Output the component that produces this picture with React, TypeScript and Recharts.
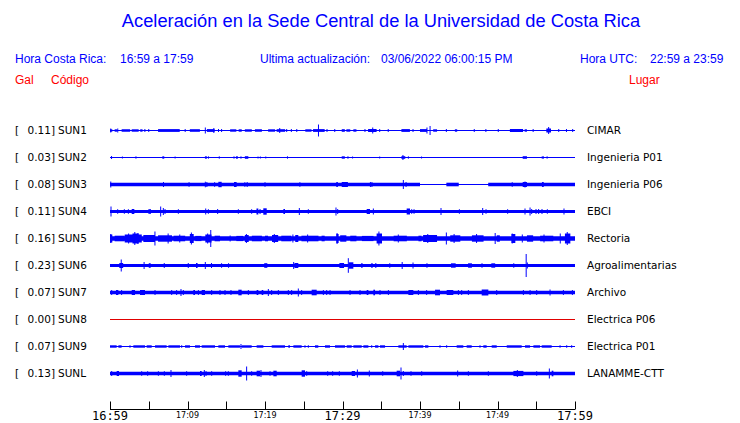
import React from 'react';
import { ComposedChart, Line, XAxis, YAxis, ReferenceArea, ReferenceLine } from 'recharts';

// stations, top to bottom
const STATIONS = ['SUN1', 'SUN2', 'SUN3', 'SUN4', 'SUN5', 'SUN6', 'SUN7', 'SUN8', 'SUN9', 'SUNL'];
const PEAKS = ['0.11', '0.03', '0.08', '0.11', '0.16', '0.23', '0.07', '0.00', '0.07', '0.13'];
const PLACES = ['CIMAR', 'Ingenieria P01', 'Ingenieria P06', 'EBCI', 'Rectoria', 'Agroalimentarias', 'Archivo', 'Electrica P06', 'Electrica P01', 'LANAMME-CTT'];
const TRACE_COLORS = ['#0000ff', '#0000ff', '#0000ff', '#0000ff', '#0000ff', '#0000ff', '#0000ff', '#e00000', '#0000ff', '#0000ff'];

// minutes after 16:59
const TIME_TICKS = [0, 5, 10, 15, 20, 25, 30, 35, 40, 45, 50, 55, 60];
const TIME_LABELS = ['16:59', '', '17:09', '', '17:19', '', '17:29', '', '17:39', '', '17:49', '', '17:59'];
const MAJOR_LABELS = ['16:59', '17:29', '17:59'];

// continuous band of the trace: [from, to, half width]
const SUN1_BASE: number[][] = [];
const SUN2_BASE: number[][] = [];
const SUN3_BASE = [[0, 40, 1.8], [43.4, 45.0, 1.8], [48.8, 60, 1.8]];
const SUN4_BASE = [[0, 60, 1.6]];
const SUN5_BASE = [[0, 60, 2.3]];
const SUN6_BASE = [[0, 60, 1.6]];
const SUN7_BASE = [[0, 60, 1.7]];
const SUN8_BASE: number[][] = [];
const SUN9_BASE: number[][] = [];
const SUNL_BASE = [[0, 60, 1.7]];

// bursts: [from, to, half amplitude]
const SUN1_BURSTS = [[0.0, 0.3, 1.2], [0.6, 0.9, 1.2], [1.5, 2.6, 1.3], [2.8, 3.7, 1.2], [3.9, 4.2, 1.2], [6.2, 9.0, 1.4], [10.3, 11.6, 1.3], [12.5, 13.5, 1.4], [15.5, 16.3, 1.2], [16.6, 17.0, 1.2], [17.4, 18.3, 1.2], [18.7, 19.6, 1.2], [20.4, 21.3, 1.2], [21.5, 22.6, 1.3], [25.2, 26.0, 1.2], [26.2, 27.7, 1.4], [29.9, 30.3, 1.3], [30.5, 31.0, 1.2], [31.4, 31.8, 1.2], [33.3, 34.4, 1.5], [37.6, 38.7, 1.4], [40.0, 40.9, 1.4], [41.7, 42.2, 1.2], [44.5, 44.8, 1.2], [51.6, 53.3, 1.4], [53.5, 53.8, 1.2], [56.3, 56.9, 2.0]];
const SUN2_BURSTS = [[6.75, 7.0, 1.2], [12.25, 12.5, 1.2], [16.25, 16.5, 1.2], [17.4, 17.85, 1.3], [29.9, 30.3, 1.2], [30.6, 30.8, 1.1], [37.6, 38.1, 1.3], [53.25, 53.8, 1.3], [55.7, 56.0, 1.1]];
const SUN3_BURSTS = [[13.98, 14.41, 2.7], [16.0, 16.34, 2.5], [29.2, 29.4, 2.5], [29.9, 30.7, 2.5], [53.25, 53.8, 2.5]];
const SUN4_BURSTS = [[2.8, 3.14, 2.5], [4.95, 5.29, 2.3], [18.9, 19.14, 3], [19.78, 20.22, 3.2], [22.37, 22.58, 2.5], [33.12, 33.55, 2.5], [38.28, 38.71, 3]];
const SUN5_BURSTS = [[0, 0.3, 4], [0.6, 1.9, 2.8], [1.9, 4.1, 4], [2.9, 3.7, 5], [4.3, 5.8, 3.5], [6.2, 8.0, 3.2], [8.2, 9.7, 2.8], [10.3, 10.8, 4.5], [11.0, 11.8, 2.6], [12.3, 13.1, 4], [13.5, 14.2, 2.8], [16.3, 17.2, 2.6], [17.4, 17.9, 3.5], [18.3, 19.6, 2.8], [20.0, 20.4, 2.8], [20.9, 21.7, 3.5], [22.1, 23.4, 2.8], [23.9, 24.3, 3.5], [24.7, 26.9, 2.8], [27.3, 27.7, 2.8], [29.2, 29.5, 4.5], [29.7, 30.5, 3.2], [31.0, 31.8, 2.8], [32.5, 34.0, 2.6], [34.4, 35.1, 5], [36.6, 38.3, 2.8], [39.8, 40.2, 2.8], [40.4, 42.2, 3.5], [43.9, 45.2, 3.2], [46.7, 48.2, 3.2], [49.9, 50.3, 3.2], [51.8, 52.3, 4.5], [53.8, 54.6, 3.2], [55.5, 57.2, 2.8], [58.7, 59.4, 5]];
const SUN6_BURSTS = [[1.2, 1.7, 2.5], [5.0, 5.25, 2.3], [11.1, 11.3, 2.5], [19.9, 20.3, 2.3], [23.8, 24.3, 2.5], [29.6, 30.2, 2.5], [30.8, 31.4, 3.2], [32.4, 32.6, 2.3], [33.7, 33.9, 2.3], [44.0, 44.6, 2.2], [46.2, 46.7, 2.2], [49.2, 49.7, 2.2]];
const SUN7_BURSTS = [[0.77, 1.08, 2.5], [2.8, 3.23, 2.5], [3.87, 4.52, 2.5], [10.75, 10.97, 2.5], [11.83, 12.26, 2.5], [16.56, 16.99, 2.8], [18.92, 19.14, 2.5], [19.57, 19.78, 2.5], [26.02, 26.67, 2.8], [33.12, 33.34, 2.5], [33.98, 34.2, 2.8], [38.5, 39.14, 2.5], [41.94, 42.58, 2.8], [43.44, 44.3, 2.5], [47.96, 48.82, 3]];
const SUN8_BURSTS: number[][] = [];
const SUN9_BURSTS = [[0, 0.86, 1.2], [1.08, 1.5, 1.2], [3.01, 4.52, 1.2], [4.73, 5.38, 1.2], [5.81, 7.31, 1.2], [7.53, 9.03, 1.2], [9.68, 10.32, 1.2], [10.97, 11.61, 1.2], [11.83, 13.55, 1.2], [13.98, 14.84, 1.2], [15.27, 16.77, 1.2], [16.99, 18.28, 1.2], [18.92, 19.79, 1.2], [20.86, 22.58, 1.2], [23.01, 23.22, 1.2], [23.66, 24.73, 1.2], [26.45, 26.88, 1.2], [27.74, 28.39, 1.2], [29.03, 30.33, 1.2], [30.54, 31.19, 1.2], [31.4, 32.48, 1.2], [32.69, 33.34, 1.2], [34.2, 34.63, 1.2], [34.84, 35.49, 1.2], [37.21, 38.28, 1.2], [38.5, 40.43, 1.2], [40.65, 41.08, 1.2], [44.73, 45.59, 1.2], [46.02, 46.67, 1.2], [48.17, 48.6, 1.2], [49.25, 49.9, 1.2], [51.19, 53.12, 1.2], [53.55, 54.2, 1.2], [54.63, 55.49, 1.2], [55.7, 56.99, 1.2]];
const SUNL_BURSTS = [[0.86, 1.16, 2.5], [11.61, 11.83, 2.5], [16.56, 16.99, 3.2], [18.92, 19.36, 2.8], [21.08, 21.51, 2.8], [24.73, 25.16, 3.2], [31.19, 31.62, 2.5], [36.99, 37.42, 2.8], [52.05, 53.34, 2.6], [56.99, 57.21, 2.8]];

// single spikes: [minute, half amplitude]
const SUN1_SPIKES = [[0.1, 2], [1.0, 2], [4.5, 1.5], [5.0, 1.5], [9.7, 1.5], [12.3, 3], [13.4, 2.5], [14.0, 1.5], [14.4, 1.5], [21.9, 2.5], [22.8, 1.5], [23.4, 1.5], [24.1, 1.5], [26.9, 6], [28.0, 1.5], [29.0, 1.5], [32.9, 1.5], [33.9, 3], [34.8, 1.5], [35.9, 1.5], [39.1, 1.5], [40.9, 3], [41.3, 4.5], [43.4, 1.5], [47.0, 1.5], [48.5, 1.5], [50.1, 1.5], [54.6, 1.5], [56.6, 3.5], [57.9, 1.5], [58.9, 1.5], [59.7, 1.5]];
const SUN2_SPIKES = [[0.2, 1.5], [1.6, 1], [3.35, 1.2], [8.4, 1], [12.7, 1.2], [14.1, 1.2], [16.0, 1.2], [16.9, 1.2], [19.1, 1], [19.4, 1], [20.1, 1], [22.9, 1.2], [31.3, 1], [34.8, 1], [37.8, 2.5], [38.5, 1.2], [40.2, 1], [56.4, 1.2]];
const SUN3_SPIKES = [[0.1, 3], [6.9, 2.5], [10.2, 2.3], [12.3, 2.8], [12.5, 2.5], [13.5, 2.3], [17.4, 2.3], [17.7, 2.5], [20.0, 2.3], [24.5, 2.3], [30.1, 2.5], [30.3, 2.5], [33.6, 2.5], [33.8, 2.5], [37.85, 4.5], [38.2, 2.5], [51.9, 2.3], [53.55, 3], [55.8, 2.5], [55.9, 2.5]];
const SUN4_SPIKES = [[0.13, 5], [0.99, 2.3], [1.85, 2.3], [2.37, 2.3], [6.54, 5], [6.88, 3.5], [7.1, 2.5], [8.82, 2.3], [12.35, 3], [12.69, 2.3], [13.89, 2.5], [16.56, 2.3], [18.28, 2.3], [19.36, 2.5], [24.43, 3.5], [25.59, 2.3], [29.16, 4], [29.38, 2.5], [33.98, 3], [38.93, 2.3], [39.23, 2.3], [42.71, 3.5], [45.08, 2.3], [48.09, 3.5], [48.52, 2.3], [51.31, 2.3], [53.55, 3], [54.2, 4], [54.41, 2.5], [54.97, 2.5], [55.31, 2.5], [55.74, 2.5], [56.43, 2.3], [58.58, 3]];
const SUN5_SPIKES = [[0.1, 4.5], [2.4, 5], [3.2, 6.5], [3.6, 5.5], [5.8, 7], [7.5, 5], [9.0, 4], [10.5, 6], [12.6, 5], [13.0, 8.5], [15.5, 3], [17.6, 4.5], [21.2, 4.5], [23.6, 4], [25.5, 4], [29.3, 5.5], [34.7, 7], [37.2, 4], [41.0, 4.5], [43.4, 6], [44.4, 4.5], [47.3, 4.5], [49.7, 5.5], [51.9, 5], [53.2, 4], [56.0, 4], [58.1, 5], [59.0, 6.5]];
const SUN6_SPIKES = [[1.45, 6], [4.4, 3.5], [7.0, 2.5], [10.1, 2.5], [12.3, 3.5], [13.1, 2.5], [14.4, 2.3], [15.3, 2.3], [23.7, 3.5], [30.75, 7.3], [34.3, 2.5], [36.1, 2.3], [37.7, 3.5], [39.1, 3], [40.9, 2.3], [48.0, 2.3], [52.1, 2.3], [53.7, 11.5], [53.85, 3]];
const SUN7_SPIKES = [[0.22, 2.5], [1.5, 2.5], [5.81, 2.5], [7.96, 2.5], [8.6, 2.5], [9.16, 3.5], [9.46, 2.5], [11.4, 2.5], [13.12, 2.5], [14.19, 2.5], [14.84, 2.5], [15.61, 2.5], [17.85, 2.5], [20.43, 3.5], [20.86, 2.5], [21.72, 2.5], [23.01, 2.5], [23.44, 2.5], [24.3, 4], [24.73, 2.5], [27.53, 2.5], [27.96, 2.5], [28.39, 2.5], [30.97, 2.5], [32.26, 2.5], [34.84, 2.5], [35.92, 2.5], [39.79, 2.5], [40.86, 2.5], [44.95, 2.5], [45.38, 2.5], [46.24, 2.5], [49.9, 2.5], [53.34, 2.5], [54.2, 2.5], [55.06, 2.5], [56.78, 3], [58.5, 2.5], [59.66, 2.5]];
const SUN8_SPIKES: number[][] = [];
const SUN9_SPIKES = [[2.58, 1.3], [9.25, 1.3], [16.9, 2.5], [25.16, 1.3], [25.59, 1.3], [33.77, 1.3], [37.85, 3.5], [42.58, 1.3], [43.44, 1.3], [47.74, 1.3], [58.07, 1.3], [58.93, 1.3], [59.57, 1.3]];
const SUNL_SPIKES = [[0.22, 2.5], [4.09, 2.3], [4.86, 2.3], [6.24, 2.3], [7.01, 2.3], [7.87, 3.5], [9.89, 2.3], [12.17, 3.5], [12.39, 2.5], [13.12, 2.3], [14.92, 2.3], [15.27, 2.3], [17.63, 7], [18.28, 2.3], [19.48, 3.5], [20.65, 2.3], [25.38, 2.3], [28.09, 2.3], [28.73, 2.3], [29.59, 2.3], [31.92, 4], [33.46, 3], [35.19, 2.3], [37.55, 6], [37.85, 2.5], [38.84, 2.3], [40.22, 2.3], [44.86, 3], [46.24, 2.3], [48.82, 2.3], [52.56, 3.5], [55.06, 2.3], [56.69, 5]];

const BASES = [SUN1_BASE, SUN2_BASE, SUN3_BASE, SUN4_BASE, SUN5_BASE, SUN6_BASE, SUN7_BASE, SUN8_BASE, SUN9_BASE, SUNL_BASE];
const BURSTS = [SUN1_BURSTS, SUN2_BURSTS, SUN3_BURSTS, SUN4_BURSTS, SUN5_BURSTS, SUN6_BURSTS, SUN7_BURSTS, SUN8_BURSTS, SUN9_BURSTS, SUNL_BURSTS];
const SPIKES = [SUN1_SPIKES, SUN2_SPIKES, SUN3_SPIKES, SUN4_SPIKES, SUN5_SPIKES, SUN6_SPIKES, SUN7_SPIKES, SUN8_SPIKES, SUN9_SPIKES, SUNL_SPIKES];

const ROW_GAP = 27;
const offset = (i: number) => (STATIONS.length - 1 - i) * ROW_GAP;

const traceTable = [0, 60].map((t) => {
  const row: any = { t };
  STATIONS.forEach((s, i) => (row[s] = offset(i)));
  return row;
});

const BLUE = '#0000ff';
const textFont = 'DejaVu Sans, sans-serif';
const headFont = 'Liberation Sans, Arial, sans-serif';

const TimeTick = (props: any) => {
  const { x, y, payload } = props;
  const idx = TIME_TICKS.indexOf(payload.value);
  const label = TIME_LABELS[idx];
  const major = MAJOR_LABELS.includes(label);
  const xx = Math.round(x) + 0.5;
  return (
    <g>
      <line x1={xx} x2={xx} y1={y - 8} y2={y} stroke="#000" strokeWidth={1} />
      {label && (
        <text
          x={x}
          y={major ? y + 10 : y + 8}
          textAnchor="middle"
          fill="#000"
          style={{ fontFamily: major ? 'DejaVu Sans Mono, monospace' : textFont, fontSize: major ? 12 : 8 }}
        >
          {label}
        </text>
      )}
    </g>
  );
};

const StationTick = (props: any) => {
  const { y, payload } = props;
  const i = STATIONS.length - 1 - Math.round(payload.value / ROW_GAP);
  if (i < 0 || i >= STATIONS.length) return <g />;
  const st = { fontFamily: textFont, fontSize: 10.5 };
  return (
    <g>
      <text x={15} y={y + 3} fill="#000" style={st}>[</text>
      <text x={55} y={y + 3} fill="#000" textAnchor="end" style={st}>{PEAKS[i]}]</text>
      <text x={58} y={y + 3} fill="#000" style={st}>{STATIONS[i]}</text>
      <text x={587} y={y + 3} fill="#000" style={st}>{PLACES[i]}</text>
    </g>
  );
};

export default function App() {
  const marks: React.ReactNode[] = [];
  STATIONS.forEach((s, i) => {
    const c = offset(i);
    const color = TRACE_COLORS[i];
    BASES[i].forEach(([a, b, h], k) =>
      marks.push(
        <ReferenceArea key={`base-${s}-${k}`} x1={a} x2={b} y1={c - h} y2={c + h} fill={color} fillOpacity={1} stroke="none" ifOverflow="visible" />
      )
    );
    BURSTS[i].forEach(([a, b, h], k) =>
      marks.push(
        <ReferenceArea key={`burst-${s}-${k}`} x1={a} x2={b} y1={c - h} y2={c + h} fill={color} fillOpacity={1} stroke="none" ifOverflow="visible" />
      )
    );
    SPIKES[i].forEach(([t, h], k) =>
      marks.push(
        <ReferenceLine
          key={`spike-${s}-${k}`}
          segment={[{ x: t, y: c - h }, { x: t, y: c + h }]}
          stroke={color}
          strokeWidth={1}
          ifOverflow="visible"
        />
      )
    );
  });

  return (
    <div style={{ position: 'absolute', left: 0, top: 0, width: 740, height: 423, background: '#fff' }}>
      <div style={{ position: 'absolute', left: 0, width: 762, top: 10, textAlign: 'center', color: BLUE, fontFamily: headFont, fontSize: 18.3, whiteSpace: 'nowrap' }}>
        Aceleración en la Sede Central de la Universidad de Costa Rica
      </div>
      <div style={{ position: 'absolute', top: 52, left: 0, width: 740, color: BLUE, fontFamily: headFont, fontSize: 12, whiteSpace: 'nowrap' }}>
        <span style={{ position: 'absolute', left: 15 }}>Hora Costa Rica:</span>
        <span style={{ position: 'absolute', left: 120 }}>16:59 a 17:59</span>
        <span style={{ position: 'absolute', left: 260 }}>Ultima actualización:</span>
        <span style={{ position: 'absolute', left: 381 }}>03/06/2022 06:00:15 PM</span>
        <span style={{ position: 'absolute', left: 580 }}>Hora UTC:</span>
        <span style={{ position: 'absolute', left: 650 }}>22:59 a 23:59</span>
      </div>
      <div style={{ position: 'absolute', top: 73, left: 0, width: 740, color: '#ff0000', fontFamily: headFont, fontSize: 12, whiteSpace: 'nowrap' }}>
        <span style={{ position: 'absolute', left: 15 }}>Gal</span>
        <span style={{ position: 'absolute', left: 51 }}>Código</span>
        <span style={{ position: 'absolute', left: 629 }}>Lugar</span>
      </div>
      <div style={{ position: 'absolute', left: 0, top: 0 }}>
        <ComposedChart width={740} height={423} data={traceTable} margin={{ top: 102.5, right: 165, bottom: 0, left: 0 }}>
          <XAxis
            dataKey="t"
            type="number"
            domain={[0, 60]}
            ticks={TIME_TICKS}
            interval={0}
            height={13.5}
            tickSize={0}
            tickMargin={0}
            tickLine={false}
            axisLine={{ stroke: '#000', strokeWidth: 1 }}
            tick={<TimeTick />}
          />
          <YAxis
            type="number"
            domain={[-36, 271]}
            ticks={STATIONS.map((_, i) => offset(i))}
            interval={0}
            width={110}
            axisLine={false}
            tickLine={false}
            tick={<StationTick />}
            allowDataOverflow
          />
          {marks}
          {STATIONS.map((s, i) => (
            <Line key={s} dataKey={s} stroke={TRACE_COLORS[i]} strokeWidth={1} dot={false} activeDot={false} isAnimationActive={false} />
          ))}
        </ComposedChart>
      </div>
    </div>
  );
}
